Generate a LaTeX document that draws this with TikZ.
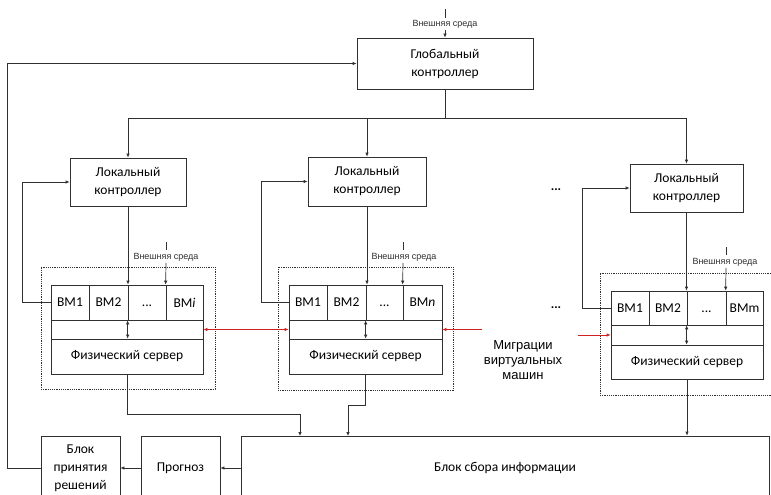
\documentclass[tikz,border=0pt]{standalone}
\usepackage{fontspec}
\setmainfont{Carlito}
\newfontfamily\arialf{Liberation Sans}
\usetikzlibrary{arrows.meta}
\definecolor{ln}{HTML}{303030}
\definecolor{rd}{HTML}{D02020}
\tikzset{
  box/.style={draw=ln,line width=0.7pt,inner sep=0pt,align=center,font=\fontsize{13.5}{18}\selectfont},
  dbox/.style={draw=ln,line width=0.6pt,dash pattern=on 1.2pt off 1pt,inner sep=0pt},
  arr/.style={draw=ln,line width=0.7pt,-{Latex[length=4pt,width=3.5pt]}},
  darr/.style={draw=ln,line width=0.7pt,{Latex[length=4pt,width=3.5pt]}-{Latex[length=4pt,width=3.5pt]}},
  plain/.style={draw=ln,line width=0.7pt},
  rarr/.style={draw=rd,line width=0.7pt,-{Latex[length=4pt,width=3.5pt]}},
  rdarr/.style={draw=rd,line width=0.7pt,{Latex[length=4pt,width=3.5pt]}-{Latex[length=4pt,width=3.5pt]}},
  small/.style={font=\arialf\fontsize{9}{10}\selectfont,inner sep=0pt,text=ln},
  dots/.style={font=\bfseries\fontsize{13}{14}\selectfont,inner sep=0pt}
}
% #1 style, #2 name, #3 x1, #4 y1, #5 x2, #6 y2, #7 text
\newcommand\rb[7][box]{%
  \pgfmathsetmacro\rbw{#5-#3}\pgfmathsetmacro\rbh{#6-#4}%
  \pgfmathsetmacro\rbx{(#3+#5)/2}\pgfmathsetmacro\rby{(#4+#6)/2}%
  \node[#1,minimum width=\rbw pt,minimum height=\rbh pt] (#2) at (\rbx,\rby) {#7};}
\newcommand\celldots{\vphantom{ВМ1}...}
\begin{document}
\begin{tikzpicture}[x=1pt,y=-1pt]
\clip (0,0) rectangle (771,495);
\fill[white] (0,0) rectangle (771,495);
% global controller
\rb{glob}{357}{38}{533}{89}{Глобальный\\контроллер}
\coordinate (gt1) at (445,9);
\coordinate (gt2) at (445,18);
\coordinate (gt3) at (445,30);
\draw[plain] (gt1) -- (gt2);
\node[small] (gext) at (445,24) {Внешняя среда};
\draw[arr] (gt3) -- (glob.north);
% local controllers
\rb{lc1}{70}{158}{186}{206}{Локальный\\контроллер}
\rb{lc2}{308}{157}{426}{206}{Локальный\\контроллер}
\rb{lc3}{630}{164}{743}{212}{Локальный\\контроллер}
\draw[arr] (glob.south) -- ++(0,29) -| (lc1.north);
\draw[arr] (glob.south) -- ++(0,29) -| (lc2.north);
\draw[arr] (glob.south) -- ++(0,29) -| (lc3.north);
% dashed boxes
\rb[dbox]{d1}{41}{267}{215}{389}{}
\rb[dbox]{d2}{278}{267}{453}{390}{}
\rb[dbox]{d3}{600}{273}{785}{395}{}
% block 1
\rb{b1v1}{51}{285}{89}{320}{ВМ1}
\rb{b1v2}{89}{285}{128}{320}{ВМ2}
\rb{b1v3}{128}{285}{166}{320}{\celldots}
\rb{b1v4}{166}{285}{203}{320}{ВМ\textit{i}}
\rb{b1m}{51}{320}{203}{339}{}
\rb{b1s}{51}{339}{203}{374}{Физический сервер}
% block 2
\rb{b2v1}{289}{285}{327}{320}{ВМ1}
\rb{b2v2}{327}{285}{366}{320}{ВМ2}
\rb{b2v3}{366}{285}{403}{320}{\celldots}
\rb{b2v4}{403}{285}{442}{320}{ВМ\textit{n}}
\rb{b2m}{289}{320}{442}{339}{}
\rb{b2s}{289}{339}{442}{374}{Физический сервер}
% block 3
\rb{b3v1}{611}{291}{649}{325}{ВМ1}
\rb{b3v2}{649}{291}{687}{325}{ВМ2}
\rb{b3v3}{687}{291}{726}{325}{\celldots}
\rb{b3v4}{726}{291}{763}{325}{ВМm}
\rb{b3m}{611}{325}{763}{345}{}
\rb{b3s}{611}{345}{763}{379}{Физический сервер}
% controller -> VM rows
\draw[arr] (lc1.south) -- (lc1.south |- b1v1.north);
\draw[arr] (lc2.south) -- (lc2.south |- b2v1.north);
\draw[arr] (lc3.south) -- (lc3.south |- b3v1.north);
\draw[darr] (b1v3.south west) -- (b1s.north -| b1v3.south west);
\draw[darr] (b2v3.south west) -- (b2s.north -| b2v3.south west);
\draw[darr] (b3v3.south west) -- (b3s.north -| b3v3.south west);
% feedback from VM1 to local controllers
\draw[arr] (b1v1.west) -- ++(-28,0) |- (lc1.west);
\draw[arr] (b2v1.west) -- ++(-27,0) |- (lc2.west);
\draw[arr] (b3v1.west) -- ++(-28,0) |- (lc3.west);
% external environment for servers
\coordinate (e1a) at (166,242); \coordinate (e1b) at (166,250); \coordinate (e1c) at (166,263);
\draw[plain] (e1a) -- (e1b);
\node[small] (e1t) at (166,257) {Внешняя среда};
\draw[arr] (e1c) -- (b1v4.north west);
\coordinate (e2a) at (403,242); \coordinate (e2b) at (403,250); \coordinate (e2c) at (403,263);
\draw[plain] (e2a) -- (e2b);
\node[small] (e2t) at (404,257) {Внешняя среда};
\draw[arr] (e2c) -- (b2v4.north west);
\coordinate (e3a) at (726,247); \coordinate (e3b) at (726,255); \coordinate (e3c) at (726,268);
\draw[plain] (e3a) -- (e3b);
\node[small] (e3t) at (725,262) {Внешняя среда};
\draw[arr] (e3c) -- (b3v4.north west);
% migration
\draw[rdarr] (b1m.east) -- (b2m.west);
\coordinate (m1) at (482,329.5);
\draw[rarr] (m1) -- (b2m.east);
\coordinate (m2) at (578,335);
\draw[rarr] (m2) -- (b3m.west);
\node[font=\arialf\fontsize{13}{15}\selectfont,align=center,inner sep=0pt] (mig) at (523,360) {Миграции\\виртуальных\\машин};
\node[dots] (dt1) at (556,190) {...};
\node[dots] (dt2) at (556,308) {...};
% bottom blocks
\rb{dec}{41}{436}{120}{500}{\fontsize{13.5}{16}\selectfont Блок\\принятия\\решений}
\rb{prog}{141}{436}{220}{500}{Прогноз}
\rb{info}{241}{436}{769}{500}{Блок сбора информации}
\coordinate (in1) at (300,436);
\coordinate (in2) at (348,436);
\draw[arr] (b1s.south) -- ++(0,40) -| (in1);
\draw[arr] (b2s.south) -- ++(0,31) -| (in2);
\draw[arr] (b3s.south) -- (b3s.south |- info.north);
\draw[arr] (info.west) -- (prog.east);
\draw[arr] (prog.west) -- (dec.east);
\draw[arr] (dec.west) -- ++(-33,0) |- (glob.west);
\end{tikzpicture}
\end{document}
